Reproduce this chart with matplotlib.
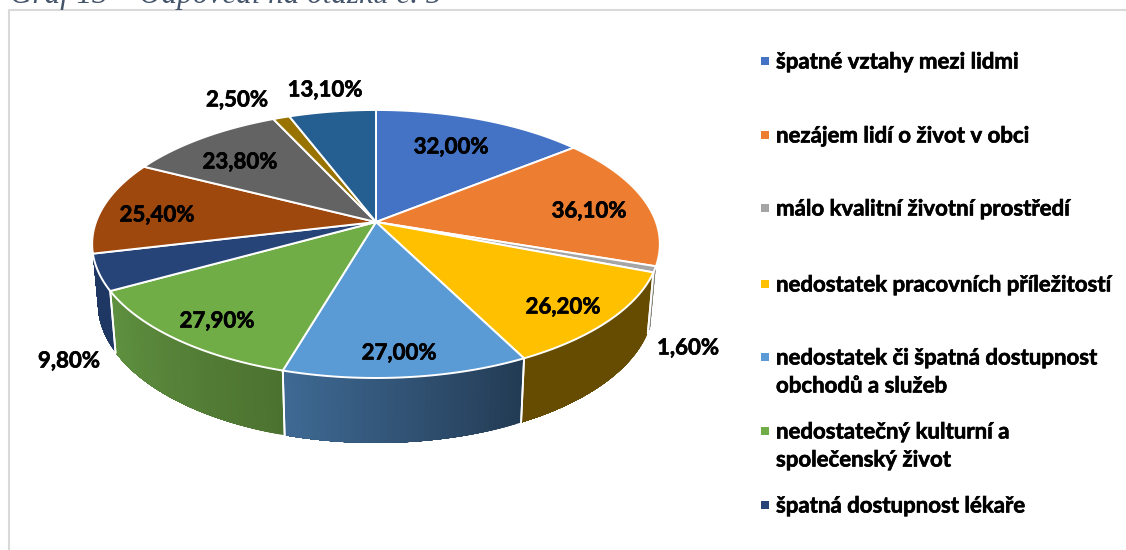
import numpy as np
import matplotlib
matplotlib.use("Agg")
import matplotlib.pyplot as plt
import matplotlib.patheffects as pe
from matplotlib.colors import to_rgb

# ---- data ----
values = [32.0, 36.1, 1.6, 26.2, 27.0, 27.9, 9.8, 25.4, 23.8, 2.5, 13.1]
top_colors = ["#4472C4", "#ED7D31", "#A5A5A5", "#FFC000", "#5B9BD5", "#70AD47",
              "#264478", "#9E480E", "#636363", "#997300", "#255E91"]
legend_names = ["špatné vztahy mezi lidmi", "nezájem lidí o život v obci",
                "málo kvalitní životní prostředí", "nedostatek pracovních příležitostí",
                "nedostatek či špatná dostupnost\nobchodů a služeb",
                "nedostatečný kulturní a\nspolečenský život", "špatná dostupnost lékaře"]
title_text = "Graf 13 – Odpovědi na otázku č. 5"

# ---- layout and style ----
label_xy = [(451, 147), (589, 211), (688, 348), (563, 307), (399, 353), (217, 321),
            (69, 361), (157, 215), (240, 162), (237, 100), (325, 90)]
legend_y = [62, 136, 209, 285, 372, 446, 506]
wall_left = {2: "#8C8A80", 3: "#654C00", 4: "#3F6A94", 5: "#5F9140", 6: "#1E3763"}
wall_right = {2: "#8C8A80", 3: "#654C00", 4: "#233B54", 5: "#4C7230", 6: "#1E3763"}
FONT = "Lato"
TXT = 16.0
HEAVY = [pe.withStroke(linewidth=0.45, foreground="black")]

fig = plt.figure(figsize=(11.26, 5.5), dpi=100)
ax = fig.add_axes([0, 0, 1, 1])
ax.set_xlim(0, 1126)
ax.set_ylim(550, 0)
ax.axis("off")

CX, CY, BX, AY, K = 376.0, 222.0, 280.0, 130.4, 0.164


def top_pt(theta):
    X, Y = np.sin(theta), np.cos(theta)
    d = 1 + K * Y
    return CX + BX * X / d, CY - AY * Y / d


def bottom_pt(theta):
    x, y = top_pt(theta)
    return CX + (x - CX) * 0.98, y + 58 - 7 * np.cos(theta)


edges = np.radians(np.concatenate([[0], np.cumsum(values)]) / np.sum(values) * 360)


def wall(i, draw_start=True, draw_end=True):
    a, b = edges[i], edges[i + 1]
    ts = np.linspace(a, b, 41)
    c0, c1 = np.array(to_rgb(wall_right[i])), np.array(to_rgb(wall_left[i]))
    for j in range(40):
        f = (j + 0.5) / 40
        c = c0 * (1 - f) + c1 * f
        xt, yt = top_pt(ts[j:])
        xb, yb = bottom_pt(ts[j:])
        ax.fill(np.r_[xt, xb[::-1]], np.r_[yt, yb[::-1]], facecolor=c, edgecolor="none",
                lw=0, zorder=2)
    for t, on in ((a, draw_start), (b, draw_end)):
        if on:
            xt, yt = top_pt(t)
            xb, yb = bottom_pt(t)
            ax.plot([xt, xb], [yt, yb], color="white", lw=1.3, zorder=3)


# back-to-front order for the visible walls
wall(6, draw_end=False)
wall(5)
wall(2, draw_start=False)
wall(3)
wall(4)

# top faces
for i, col in enumerate(top_colors):
    ts = np.linspace(edges[i], edges[i + 1], 80)
    xs, ys = top_pt(ts)
    ax.fill(np.r_[CX, xs], np.r_[CY, ys], facecolor=col, edgecolor="white", lw=1.4,
            joinstyle="miter", zorder=4)

# data labels
for v, (x, y) in zip(values, label_xy):
    ax.text(x, y, f"{v:.2f}%".replace(".", ","), ha="center", va="center",
            fontsize=TXT, fontweight="bold", family=FONT, color="black", zorder=6,
            path_effects=HEAVY)

# legend
for name, y, col in zip(legend_names, legend_y, top_colors[:7]):
    lines = name.split("\n")
    y0 = y - 14 if len(lines) == 2 else y
    ax.scatter([765], [y0 - 1], marker="s", s=34, color=col, linewidths=0, zorder=6)
    for k, line in enumerate(lines):
        ax.text(776, y0 + k * 28, line, ha="left", va="center", fontsize=TXT,
                fontweight="bold", family=FONT, color="black", zorder=6,
                path_effects=HEAVY)

# frame of the chart area
ax.plot([9, 9, 1126], [550, 10, 10], color="#D9D9D9", lw=1.5, zorder=1)

# title, cropped by the upper image edge
ax.text(10, 3, title_text, ha="left", va="baseline", fontsize=22.4, style="italic",
        family="Liberation Serif", color="#44546A", zorder=6)

fig.savefig("out.png", dpi=100)
